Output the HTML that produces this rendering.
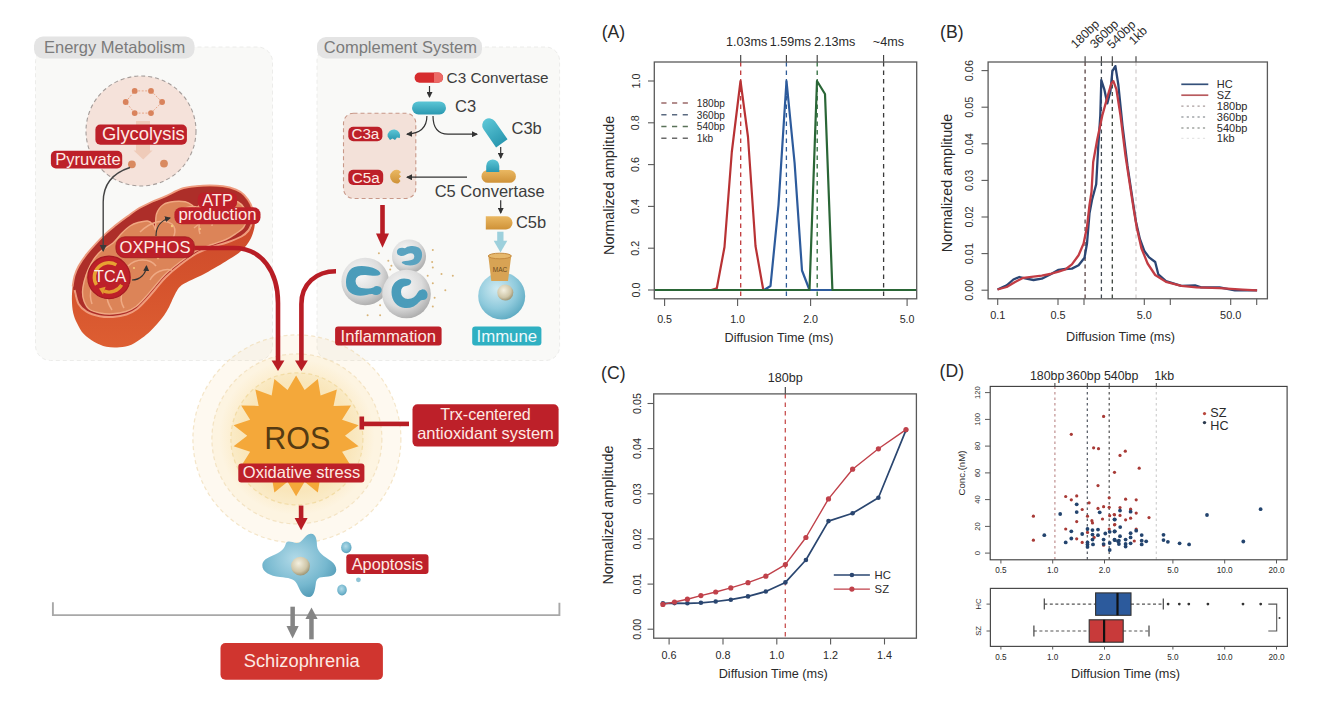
<!DOCTYPE html>
<html><head><meta charset="utf-8"><title>Figure</title>
<style>
html,body{margin:0;padding:0;background:#fff;}
svg{display:block;}
text{font-family:'Liberation Sans', Arial, sans-serif;}
</style></head>
<body>
<svg width="1318" height="718" viewBox="0 0 1318 718">
<defs>
<radialGradient id="gNeut" cx="40%" cy="35%" r="70%">
  <stop offset="0" stop-color="#f8f8f8"/><stop offset="0.6" stop-color="#dcdcdc"/><stop offset="1" stop-color="#a8a8a8"/>
</radialGradient>
<radialGradient id="gCell" cx="40%" cy="35%" r="70%">
  <stop offset="0" stop-color="#cfeaf2"/><stop offset="0.6" stop-color="#8fcadc"/><stop offset="1" stop-color="#5aa8c0"/>
</radialGradient>
<radialGradient id="gNuc" cx="40%" cy="35%" r="65%">
  <stop offset="0" stop-color="#f4f0e0"/><stop offset="0.7" stop-color="#cfc6a8"/><stop offset="1" stop-color="#a09878"/>
</radialGradient>
<linearGradient id="gTeal" x1="0" y1="0" x2="0" y2="1">
  <stop offset="0" stop-color="#5cc6d6"/><stop offset="1" stop-color="#2a98b0"/>
</linearGradient>
<linearGradient id="gGold" x1="0" y1="0" x2="0" y2="1">
  <stop offset="0" stop-color="#eab862"/><stop offset="1" stop-color="#cf9238"/>
</linearGradient>
<linearGradient id="gMitoOuter" x1="0" y1="0" x2="0" y2="1">
  <stop offset="0" stop-color="#c8442a"/><stop offset="0.6" stop-color="#d5532d"/><stop offset="1" stop-color="#dd5e32"/>
</linearGradient>
<radialGradient id="gHalo" cx="50%" cy="50%" r="50%">
  <stop offset="0.7" stop-color="#f8d890" stop-opacity="0.35"/><stop offset="1" stop-color="#f8d890" stop-opacity="0"/>
</radialGradient>
<radialGradient id="gApo" cx="45%" cy="40%" r="65%">
  <stop offset="0" stop-color="#b2dae8"/><stop offset="0.65" stop-color="#76b8cf"/><stop offset="1" stop-color="#4f98b4"/>
</radialGradient>
<marker id="mBlk2" markerWidth="8" markerHeight="8" refX="6" refY="3.5" orient="auto" markerUnits="userSpaceOnUse"><path d="M0,0 L7,3.5 L0,7 Z" fill="#3a3a3a"/></marker>
<marker id="mBlk" markerWidth="6" markerHeight="6" refX="5" refY="3" orient="auto" markerUnits="userSpaceOnUse"><path d="M0,0 L6,3 L0,6 Z" fill="#333"/></marker>
</defs>
<rect width="1318" height="718" fill="#fff"/>

<!-- panels -->
<rect x="35.5" y="47" width="237" height="313.5" rx="15" fill="#f9f9f7" stroke="#ececea" stroke-width="1" stroke-dasharray="4,3"/>
<rect x="317" y="47" width="242.6" height="313.5" rx="14" fill="#f9f9f7" stroke="#ececea" stroke-width="1" stroke-dasharray="4,3"/>
<rect x="34" y="36.5" width="160.5" height="22" rx="9" fill="#e4e4e4"/>
<text x="44" y="53" font-size="16.5" fill="#7b7b7b">Energy Metabolism</text>
<rect x="317" y="37" width="165" height="21.5" rx="9" fill="#e4e4e4"/>
<text x="323.8" y="53.2" font-size="16.5" fill="#7b7b7b">Complement System</text>

<!-- glycolysis -->
<circle cx="141" cy="131" r="55" fill="#f5e2da" stroke="#a59d9a" stroke-width="1.1" stroke-dasharray="4,3"/>
<g stroke="#e7a88a" stroke-width="1" stroke-dasharray="2,1.5">
<line x1="134.7" y1="90.9" x2="151" y2="90.9"/><line x1="151" y1="90.9" x2="162.1" y2="102"/><line x1="162.1" y1="102" x2="151" y2="113.1"/>
<line x1="151" y1="113.1" x2="134.7" y2="113.1"/><line x1="134.7" y1="113.1" x2="125.7" y2="102"/><line x1="125.7" y1="102" x2="134.7" y2="90.9"/>
</g>
<g fill="#d9835c"><circle cx="134.7" cy="90.9" r="2.9"/><circle cx="151" cy="90.9" r="2.9"/><circle cx="125.7" cy="102" r="2.9"/><circle cx="162.1" cy="102" r="2.9"/><circle cx="134.7" cy="113.1" r="2.9"/><circle cx="151" cy="113.1" r="2.9"/></g>
<path d="M136,121 H150 V150.6 H152.6 L143.2,159.6 L133.6,150.6 H136 Z" fill="#efcbb9"/>
<rect x="95.4" y="124.6" width="91.5" height="20.2" rx="5" fill="#bd2029"/>
<text x="102" y="140.2" font-size="18.4" fill="#fdeae4">Glycolysis</text>
<rect x="50.9" y="150.8" width="71.3" height="17.6" rx="5" fill="#bd2029"/>
<text x="55.2" y="165" font-size="16.6" fill="#fdeae4">Pyruvate</text>
<circle cx="131.9" cy="164.3" r="3.9" fill="#d98a60"/><circle cx="164" cy="163.6" r="3.9" fill="#d98a60"/>

<!-- mitochondrion -->
<path d="M78.5,266.3 C80.5,262.7 83.6,258.1 86.5,254.4 C89.4,250.7 92.4,247.3 95.7,243.8 C99.0,240.3 103.0,236.3 106.3,233.2 C109.6,230.1 112.3,228.0 115.6,225.3 C118.9,222.7 122.2,220.2 126.2,217.3 C130.2,214.4 135.0,210.7 139.4,208.1 C143.8,205.5 148.2,203.5 152.6,201.5 C157.0,199.5 160.7,198.4 165.8,196.2 C170.9,194.0 177.0,190.0 183.2,188.2 C189.4,186.4 196.5,185.9 203.1,185.6 C209.7,185.3 217.4,185.5 222.9,186.2 C228.4,186.9 232.6,188.2 236.1,189.6 C239.6,191.0 241.7,192.4 244.1,194.8 C246.5,197.2 249.0,200.8 250.7,204.1 C252.3,207.4 253.3,211.2 254.0,214.7 C254.7,218.2 255.0,221.8 254.7,225.3 C254.4,228.8 253.3,232.5 252.0,235.8 C250.7,239.1 248.9,242.2 246.7,245.1 C244.5,248.0 241.9,250.6 238.8,253.0 C235.7,255.4 231.7,257.5 228.2,259.7 C224.7,261.9 221.5,264.0 217.6,266.3 C213.7,268.6 209.3,271.2 205.0,273.5 C200.7,275.8 195.9,277.9 192.0,279.8 C188.1,281.7 184.3,283.2 181.8,285.1 C179.3,287.0 178.2,288.8 176.8,290.9 C175.4,293.0 174.7,295.0 173.4,297.6 C172.1,300.2 170.8,303.8 169.2,306.8 C167.6,309.8 165.9,312.7 164.0,315.5 C162.1,318.3 159.8,320.8 157.5,323.5 C155.2,326.2 152.6,329.1 150.0,331.5 C147.4,333.9 145.1,335.9 142.0,338.1 C138.9,340.3 135.2,343.2 131.4,344.7 C127.7,346.2 123.7,347.0 119.5,347.3 C115.3,347.6 110.5,347.6 106.3,346.7 C102.1,345.8 98.2,344.1 94.4,342.0 C90.7,339.9 86.7,337.2 83.8,334.1 C80.9,331.0 79.0,327.0 77.2,323.5 C75.4,320.0 74.1,316.9 73.2,312.9 C72.3,308.9 72.0,304.1 71.9,299.7 C71.8,295.3 72.2,290.4 72.6,286.5 C73.0,282.6 73.5,279.4 74.5,276.0 C75.5,272.6 76.5,269.9 78.5,266.3 Z" fill="url(#gMitoOuter)"/>
<path d="M73.5,290.0 C72.9,285.4 73.8,280.1 74.8,276.0 C75.8,271.9 77.4,269.2 79.5,265.5 C81.6,261.8 84.6,257.5 87.5,253.8 C90.4,250.1 93.4,246.7 96.7,243.2 C100.0,239.7 104.0,235.8 107.3,232.8 C110.6,229.8 113.3,227.6 116.6,225.0 C119.9,222.4 123.3,220.0 127.2,217.2 C131.1,214.4 135.9,210.9 140.2,208.3 C144.5,205.8 148.8,203.8 153.2,201.9 C157.6,200.0 161.4,198.9 166.5,196.8 C171.6,194.7 177.5,190.9 183.6,189.2 C189.7,187.5 196.7,187.1 203.2,186.8 C209.7,186.5 217.3,186.7 222.7,187.4 C228.1,188.1 232.2,189.4 235.6,190.8 C239.0,192.2 241.0,193.6 243.3,196.0 C245.6,198.4 247.9,201.9 249.5,205.0 C251.1,208.1 252.0,211.5 252.6,214.7 C253.2,217.9 253.5,221.4 253.0,224.0 C252.5,226.6 251.4,228.4 249.5,230.5 C247.6,232.6 245.2,234.5 241.4,236.5 C237.6,238.5 231.8,240.8 226.9,242.5 C222.0,244.2 217.1,245.2 212.0,247.0 C206.9,248.8 201.9,250.5 196.6,253.5 C191.3,256.5 185.1,261.1 180.0,265.0 C174.9,268.9 170.0,273.1 166.0,277.0 C162.0,280.9 159.2,284.8 156.0,288.5 C152.8,292.2 150.2,295.6 147.0,299.0 C143.8,302.4 140.4,306.4 137.0,309.0 C133.6,311.6 130.5,313.2 126.5,314.5 C122.5,315.8 117.4,316.6 112.9,316.9 C108.4,317.2 104.1,317.1 99.7,316.2 C95.3,315.3 90.0,313.7 86.5,311.6 C83.0,309.5 80.7,307.3 78.5,303.7 C76.3,300.1 74.1,294.6 73.5,290.0 Z" fill="#ad2e29"/>
<path d="M72.6,286.5 C72.9,284.8 73.5,279.4 74.5,276.0 C75.5,272.6 76.5,269.9 78.5,266.3 C80.5,262.7 83.6,258.1 86.5,254.4 C89.4,250.7 92.4,247.3 95.7,243.8 C99.0,240.3 103.0,236.3 106.3,233.2 C109.6,230.1 112.3,228.0 115.6,225.3 C118.9,222.7 122.2,220.2 126.2,217.3 C130.2,214.4 135.0,210.7 139.4,208.1 C143.8,205.5 148.2,203.5 152.6,201.5 C157.0,199.5 160.7,198.4 165.8,196.2 C170.9,194.0 177.0,190.0 183.2,188.2 C189.4,186.4 196.5,185.9 203.1,185.6 C209.7,185.3 217.4,185.5 222.9,186.2 C228.4,186.9 232.6,188.2 236.1,189.6 C239.6,191.0 241.7,192.4 244.1,194.8 C246.5,197.2 249.0,200.8 250.7,204.1 C252.3,207.4 253.4,212.9 254.0,214.7" fill="none" stroke="#ee9c80" stroke-width="1.8"/>
<path d="M84.0,282.0 C84.9,278.3 86.3,273.8 88.0,270.0 C89.7,266.2 91.8,262.2 94.0,259.0 C96.2,255.8 97.8,253.7 101.0,251.0 C104.2,248.3 109.5,246.0 113.0,243.0 C116.5,240.0 119.2,235.8 122.0,233.0 C124.8,230.2 127.3,227.8 130.0,226.0 C132.7,224.2 135.1,223.3 138.0,222.5 C140.9,221.7 145.0,220.6 147.6,221.0 C150.2,221.4 152.1,223.7 153.4,225.0 C154.7,226.3 155.0,230.8 155.5,229.0 C156.0,227.2 155.2,218.1 156.5,214.0 C157.8,209.9 160.5,206.6 163.5,204.5 C166.5,202.4 170.7,201.9 174.3,201.5 C177.9,201.1 182.2,201.2 185.2,201.8 C188.1,202.4 190.2,203.8 192.0,205.0 C193.8,206.2 194.5,209.2 196.0,209.0 C197.5,208.8 198.3,205.0 201.0,203.5 C203.7,202.0 207.8,200.7 212.0,200.0 C216.2,199.3 221.7,199.2 226.0,199.5 C230.3,199.8 234.8,200.4 238.0,202.0 C241.2,203.6 243.5,206.3 245.0,209.0 C246.5,211.7 247.2,214.9 247.0,218.0 C246.8,221.1 245.3,224.9 243.5,227.5 C241.7,230.1 238.9,231.5 236.0,233.5 C233.1,235.5 230.0,237.7 226.0,239.5 C222.0,241.3 217.0,242.6 212.0,244.5 C207.0,246.4 201.4,248.0 196.0,251.0 C190.6,254.0 184.7,258.6 179.5,262.5 C174.3,266.4 169.2,270.5 165.0,274.5 C160.8,278.5 157.8,282.8 154.5,286.5 C151.2,290.2 148.6,293.7 145.5,297.0 C142.4,300.3 139.2,304.1 136.0,306.5 C132.8,308.9 129.8,310.3 126.0,311.5 C122.2,312.7 117.3,313.6 113.0,313.8 C108.7,314.1 104.0,313.8 100.0,313.0 C96.0,312.2 91.7,311.0 89.0,309.0 C86.3,307.0 85.1,303.8 84.0,301.0 C82.9,298.2 82.5,295.2 82.5,292.0 C82.5,288.8 83.1,285.7 84.0,282.0 Z" fill="#dc8458" stroke="#f0a882" stroke-width="1.4"/>
<g fill="none" stroke="#efaa84" stroke-width="1.5">
<path d="M92,304 C88,292 92,282 100,276"/>
<path d="M112,310 C104,298 106,286 114,280"/>
<path d="M124,308 C118,298 122,288 130,284"/>
<path d="M140,232 C150,222 164,218 172,224 C178,230 174,240 166,246"/>
<path d="M176,214 C184,206 196,204 202,210 C206,216 200,224 194,228"/>
<path d="M200,234 C196,222 204,210 218,208 C232,206 240,214 238,224"/>
<path d="M212,226 C212,218 222,214 228,220"/>
<path d="M128,266 C136,258 150,258 156,266"/>
<path d="M150,280 C154,272 164,268 172,270"/>
</g>
<path d="M74.6,290.0 C75.2,292.3 76.5,300.1 78.5,303.7 C80.5,307.3 83.0,309.5 86.5,311.6 C90.0,313.7 95.3,315.3 99.7,316.2 C104.1,317.1 108.4,317.2 112.9,316.9 C117.4,316.6 122.5,315.8 126.5,314.5 C130.5,313.2 133.6,311.6 137.0,309.0 C140.4,306.4 143.8,302.4 147.0,299.0 C150.2,295.6 152.8,292.2 156.0,288.5 C159.2,284.8 162.0,280.9 166.0,277.0 C170.0,273.1 174.9,268.9 180.0,265.0 C185.1,261.1 191.3,256.5 196.6,253.5 C201.9,250.5 206.9,248.8 212.0,247.0 C217.1,245.2 222.0,244.2 226.9,242.5 C231.8,240.8 237.8,238.5 241.4,236.5 C245.0,234.5 246.8,232.6 248.5,230.5 C250.2,228.4 251.2,225.1 251.8,224.0" fill="none" stroke="#f09c7c" stroke-width="2"/>
<g fill="#f3c878"><circle cx="104" cy="292" r="1.2"/><circle cx="158" cy="258" r="1.2"/><circle cx="172" cy="226" r="1.2"/><circle cx="134" cy="268" r="1.1"/><circle cx="200" cy="229" r="1.1"/></g>
<!-- pyruvate -> TCA line -->
<path d="M130,167.5 C116,172 103.2,182 103.2,202 V251" fill="none" stroke="#444" stroke-width="1.4" marker-end="url(#mBlk2)"/>
<!-- TCA -->
<circle cx="109" cy="277.4" r="21.2" fill="#bd2029" stroke="#a51b22" stroke-width="1.2"/>
<path d="M116.3,264.9 A14.5,14.5 0 0 0 96.4,284.8" fill="none" stroke="#e8a232" stroke-width="3.4"/>
<path d="M121.6,284.8 A14.5,14.5 0 0 1 104,291.2" fill="none" stroke="#e39a30" stroke-width="3.4"/>
<path d="M99,288.6 L105.6,286.8 L103,294.6 Z" fill="#e39a30"/>
<text x="110.2" y="282.4" font-size="16.2" fill="#fbeee8" text-anchor="middle">TCA</text>
<!-- small arrows -->
<path d="M132,280 C140,280 146,274 146.5,266" fill="none" stroke="#333" stroke-width="1.2" marker-end="url(#mBlk)"/>
<path d="M156,236 C156,226 162,220 170,218" fill="none" stroke="#333" stroke-width="1.2" marker-end="url(#mBlk)"/>
<!-- OXPHOS / ATP labels -->
<rect x="115.9" y="236.8" width="78.5" height="20.9" rx="9" fill="#bd2029" stroke="#a01c20" stroke-width="0.8"/>
<text x="155.1" y="252.8" font-size="16.6" fill="#fdeae4" text-anchor="middle">OXPHOS</text>
<rect x="197.8" y="192.5" width="39.3" height="16" rx="6" fill="#bd2029"/>
<rect x="174.4" y="207.2" width="86.1" height="17.1" rx="7" fill="#bd2029"/>
<text x="217.5" y="206" font-size="16.4" fill="#fdeae4" text-anchor="middle">ATP</text>
<text x="217.5" y="220.3" font-size="16.7" fill="#fdeae4" text-anchor="middle">production</text>

<!-- halo -->
<circle cx="296.9" cy="438.9" r="104" fill="rgb(245,212,140)" fill-opacity="0.13" stroke="#efdcb4" stroke-opacity="0.7" stroke-width="1.2" stroke-dasharray="4,3"/>
<circle cx="296.9" cy="438.9" r="85" fill="rgb(245,212,140)" fill-opacity="0.15" stroke="#efdcb4" stroke-opacity="0.7" stroke-width="1.2" stroke-dasharray="4,3"/>
<circle cx="296.9" cy="437" r="78" fill="url(#gHalo)"/>
<circle cx="296.9" cy="438.9" r="66" fill="rgb(245,212,140)" fill-opacity="0.17" stroke="#f0d89c" stroke-opacity="0.8" stroke-width="1.2" stroke-dasharray="4,3"/>
<!-- red connectors to ROS -->
<path d="M194.4,248 H234 C262,248 278,272 278,303 V362" fill="none" stroke="#b81d25" stroke-width="4.6"/>
<path d="M271.6,360.5 H284.4 L278,371 Z" fill="#b81d25"/>
<path d="M336,271.2 C316,271.2 301.4,284 301.4,304 V362" fill="none" stroke="#b81d25" stroke-width="4.6"/>
<path d="M295,360.5 H307.8 L301.4,371 Z" fill="#b81d25"/>

<!-- complement -->
<rect x="343.5" y="113.2" width="72.3" height="85.3" rx="10" fill="#f3e1d9" stroke="#c89888" stroke-width="1.1" stroke-dasharray="4,3"/>
<rect x="414.6" y="72.6" width="28.5" height="10.1" rx="5" fill="#d62c2e"/>
<path d="M434,72.6 H438 A5,5 0 0 1 438,82.7 H434 Z" fill="#ec6a66"/>
<text x="446.6" y="82.8" font-size="15.3" fill="#3d3d3d">C3 Convertase</text>
<line x1="429.5" y1="86" x2="429.5" y2="97" stroke="#333" stroke-width="1.2" marker-end="url(#mBlk)"/>
<rect x="412" y="101.4" width="34" height="13.1" rx="6.5" fill="url(#gTeal)"/>
<text x="455" y="112.4" font-size="16.5" fill="#3d3d3d">C3</text>
<path d="M426.9,116 C426.9,128 420,133.5 407,134.2" fill="none" stroke="#333" stroke-width="1.2" marker-end="url(#mBlk)"/>
<path d="M433,116 C433,128 438,134 448,134.2 H477" fill="none" stroke="#333" stroke-width="1.2" marker-end="url(#mBlk)"/>
<g transform="rotate(-35 493.5 131.5)"><path d="M486.5,146 V124 A7,7 0 0 1 500.5,124 V146 Z" fill="url(#gTeal)"/></g>
<text x="511.5" y="134.2" font-size="16.5" fill="#3d3d3d">C3b</text>
<rect x="348.3" y="126.8" width="34.1" height="14.4" rx="5" fill="#bd2029"/>
<text x="365.4" y="139.1" font-size="15.2" fill="#fdeae4" text-anchor="middle">C3a</text>
<path d="M387.6,136.5 A6.3,6.3 0 1 1 399.8,138 L397,137.5 L395,140 L392.5,138.5 L390,140 Z" fill="url(#gTeal)"/>
<line x1="500.7" y1="147" x2="500.7" y2="158" stroke="#333" stroke-width="1.2" marker-end="url(#mBlk)"/>
<rect x="481.5" y="170" width="34.4" height="12.8" rx="6.4" fill="url(#gGold)"/>
<path d="M486.2,172 V166 A6.5,6.5 0 0 1 499.3,166 V172 Z" fill="url(#gTeal)"/>
<text x="434.7" y="196.7" font-size="16.5" fill="#3d3d3d">C5 Convertase</text>
<line x1="467" y1="177.2" x2="407" y2="177.2" stroke="#333" stroke-width="1.2" marker-end="url(#mBlk)"/>
<rect x="348.3" y="169.7" width="34.9" height="15.3" rx="5" fill="#bd2029"/>
<text x="365.7" y="182.6" font-size="15.2" fill="#fdeae4" text-anchor="middle">C5a</text>
<path d="M398.5,170 A6.8,6.8 0 1 0 398.5,183.2 L400.5,181 L398.8,178.5 L401,176.5 L399,174 L401,172 Z" fill="url(#gGold)"/>
<line x1="500.7" y1="200.2" x2="500.7" y2="213" stroke="#333" stroke-width="1.2" marker-end="url(#mBlk)"/>
<path d="M485.8,216.3 H506 A6.5,6.5 0 0 1 506,229.4 H485.8 Z" fill="url(#gGold)"/>
<text x="515.9" y="228.2" font-size="16.5" fill="#3d3d3d">C5b</text>
<!-- red arrow from C5a box -->
<rect x="380.2" y="205" width="4.6" height="30" fill="#b81d25"/>
<path d="M376,233.5 H389 L382.5,247.7 Z" fill="#b81d25"/>
<!-- light blue arrow -->
<rect x="497.2" y="231.7" width="6.3" height="10" fill="#9dd0dc"/>
<path d="M493.7,240.8 H507.3 L500.5,252.5 Z" fill="#9dd0dc"/>
<!-- neutrophils -->
<g fill="#d8b478"><circle cx="432.8" cy="250" r="1"/><circle cx="432.1" cy="262" r="1"/><circle cx="432.8" cy="267.6" r="1"/><circle cx="427.7" cy="275.7" r="1"/><circle cx="441.5" cy="273.9" r="1"/><circle cx="452.8" cy="275.7" r="1"/><circle cx="432.8" cy="283.3" r="1"/><circle cx="445.3" cy="290.2" r="1"/><circle cx="434.6" cy="297.7" r="1"/><circle cx="432.8" cy="306.4" r="1"/><circle cx="378.9" cy="253.2" r="1"/><circle cx="388.3" cy="260.7" r="1"/><circle cx="391.4" cy="265.7" r="1"/><circle cx="390.2" cy="269.5" r="1"/><circle cx="380.1" cy="305.2" r="1"/><circle cx="367.6" cy="315.2" r="1"/><circle cx="380.1" cy="315.2" r="1"/></g>
<circle cx="365.2" cy="281.5" r="23.8" fill="url(#gNeut)"/>
<path d="M379,273.5 C376,268.5 362,266 355,268.5 C348,271 346,281 348.5,288 C351,294 359,295 366,293.5 C369,293 371,292 373,292.5 C375,294 379,294 380,291 C381,288 377,286.5 374.5,288.5 C372,290 369,290 366,290 C359,290 354,287 354,281 C354,275.5 359,273 366,273.5 C372,274 377,275.5 379,273.5 Z" fill="#4b9cba" stroke="#4b9cba" stroke-width="3" stroke-linejoin="round"/>
<circle cx="409" cy="256.4" r="17" fill="url(#gNeut)"/>
<path d="M398,252 C398,249 402,248 405,249.5 C408,247 414,246 418,248.5 C422,251 422,258 418,262 C414,265.5 406,265 403,262.5 C406,262 411,262 414,260 C416,258 416,254 413,252.5 C410,251 407,253 405,254 C402,255.5 398,255 398,252 Z" fill="#5aa3c0" stroke="#5aa3c0" stroke-width="2.2" stroke-linejoin="round"/>
<circle cx="406.5" cy="294" r="24.3" fill="url(#gNeut)"/>
<path d="M404,280 C398,280 393,285 393,292 C393,300 398,306 405,306.5 C411,307 416,304 418,301 C419.5,299 421,298 423,298.5 C426,298.5 427,295 425.5,292.5 C424,290 420,290.5 419,293 C417.5,296.5 414,300 408,300.5 C403,300.5 399.5,297 399.5,292 C399.5,287.5 402,285 406,284.5 C410,284 411,281 408,280.5 Z" fill="#4b9cba" stroke="#4b9cba" stroke-width="3" stroke-linejoin="round"/>
<!-- immune cell -->
<circle cx="501.7" cy="296" r="23.5" fill="url(#gCell)"/>
<circle cx="505.3" cy="292.6" r="8" fill="url(#gNuc)"/>
<path d="M488.3,255.5 H511.3 L508,281 H491.3 Z" fill="#d8a354"/>
<ellipse cx="499.8" cy="256" rx="11.5" ry="2.8" fill="#e6b86c" stroke="#c48a40" stroke-width="1"/>
<text x="500" y="271.5" font-size="6.5" fill="#6b4a1e" text-anchor="middle">MAC</text>
<!-- labels -->
<rect x="335.1" y="326.6" width="106.5" height="18.8" rx="3" fill="#bd2029"/>
<text x="388.3" y="342" font-size="16.7" fill="#fdeae4" text-anchor="middle">Inflammation</text>
<rect x="472.2" y="326.6" width="69.2" height="18.8" rx="3" fill="#2fb0c2"/>
<text x="506.8" y="342" font-size="16.8" fill="#eef9fb" text-anchor="middle">Immune</text>

<!-- ROS -->
<polygon points="0.0,-61.0 8.2,-46.3 20.9,-57.3 23.5,-40.7 39.2,-46.7 36.0,-30.2 52.8,-30.5 44.2,-16.1 60.1,-10.6 47.0,0.0 60.1,10.6 44.2,16.1 52.8,30.5 36.0,30.2 39.2,46.7 23.5,40.7 20.9,57.3 8.2,46.3 0.0,61.0 -8.2,46.3 -20.9,57.3 -23.5,40.7 -39.2,46.7 -36.0,30.2 -52.8,30.5 -44.2,16.1 -60.1,10.6 -47.0,0.0 -60.1,-10.6 -44.2,-16.1 -52.8,-30.5 -36.0,-30.2 -39.2,-46.7 -23.5,-40.7 -20.9,-57.3 -8.2,-46.3" transform="translate(296.1 435.8) scale(1.04 0.99)" fill="#f4a83a"/>
<text x="297.4" y="449" font-size="30.5" fill="#553a12" text-anchor="middle">ROS</text>
<rect x="238.3" y="463.5" width="126.1" height="19.1" rx="3" fill="#bd2029"/>
<text x="301.5" y="478.4" font-size="16.5" fill="#fdeae4" text-anchor="middle">Oxidative stress</text>
<rect x="298.8" y="505.6" width="4.6" height="14" fill="#b81d25"/>
<path d="M294.6,518 H307.6 L301.1,530.3 Z" fill="#b81d25"/>
<!-- inhibition -->
<rect x="361" y="421.6" width="48" height="4.6" fill="#b81d25"/>
<rect x="359.5" y="416.5" width="4.6" height="13" fill="#b81d25"/>
<rect x="412.5" y="404.3" width="146.1" height="42.3" rx="5" fill="#bd2029"/>
<text x="485.5" y="419.8" font-size="16.1" fill="#fdeae4" text-anchor="middle">Trx-centered</text>
<text x="485.5" y="438.9" font-size="16.5" fill="#fdeae4" text-anchor="middle">antioxidant system</text>

<!-- apoptosis -->
<path d="M310.5,533.7 C316,533 317,540 317,546 C318,553 324,556 331,561 C338,566 338,574 331,576 C324,578 318,575 316,582 C315,590 314,597 309,597 C302,597 300,590 297,584 C294,578 288,578 280,577 C270,576 262,572 262.3,565 C262.5,559 270,557 278,553 C284,550 285,546 286,543 C288,540 292,542 296,543 C302,544 305,534 310.5,533.7 Z" fill="url(#gApo)"/>
<circle cx="300.5" cy="566.1" r="9.4" fill="url(#gNuc)"/>
<ellipse cx="346.3" cy="547.4" rx="5.2" ry="5.8" fill="url(#gApo)"/>
<ellipse cx="342" cy="589.9" rx="4.8" ry="5.5" fill="url(#gApo)"/>
<circle cx="358.4" cy="579.8" r="2.4" fill="#8fc4d6"/>
<rect x="346.3" y="554.2" width="82.2" height="19.9" rx="3" fill="#bd2029"/>
<text x="387.5" y="569.7" font-size="16.3" fill="#fdeae4" text-anchor="middle">Apoptosis</text>

<!-- bracket -->
<path d="M52.9,602.3 V615.1 H559.4 V602.8" fill="none" stroke="#a8a8a8" stroke-width="1.9"/>
<rect x="290.4" y="606.7" width="4.5" height="20" fill="#858585"/>
<path d="M286.5,626 H298.7 L292.6,638.6 Z" fill="#858585"/>
<rect x="309.2" y="618" width="4.5" height="21.3" fill="#858585"/>
<path d="M305.4,619 H317.6 L311.5,607.5 Z" fill="#858585"/>
<rect x="220.5" y="643.1" width="162.4" height="36.7" rx="5" fill="#d0352f"/>
<text x="301.7" y="667" font-size="18.3" fill="#fdeae4" text-anchor="middle">Schizophrenia</text>

<text x="613.4" y="37.8" font-size="17.6" text-anchor="middle" fill="#2a2a2a">(A)</text>
<line x1="740.7" y1="62.0" x2="740.7" y2="298.8" stroke="#c0393b" stroke-width="1.3" stroke-dasharray="4.5,4"/>
<line x1="740.7" y1="55.0" x2="740.7" y2="62.0" stroke="#3a3a3a" stroke-width="1.1"/>
<line x1="786.4" y1="62.0" x2="786.4" y2="298.8" stroke="#2f5c98" stroke-width="1.3" stroke-dasharray="4.5,4"/>
<line x1="786.4" y1="55.0" x2="786.4" y2="62.0" stroke="#3a3a3a" stroke-width="1.1"/>
<line x1="817.2" y1="62.0" x2="817.2" y2="298.8" stroke="#2c6b3a" stroke-width="1.3" stroke-dasharray="4.5,4"/>
<line x1="817.2" y1="55.0" x2="817.2" y2="62.0" stroke="#3a3a3a" stroke-width="1.1"/>
<line x1="883.6" y1="62.0" x2="883.6" y2="298.8" stroke="#3a3a3a" stroke-width="1.3" stroke-dasharray="4.5,4"/>
<line x1="883.6" y1="55.0" x2="883.6" y2="62.0" stroke="#3a3a3a" stroke-width="1.1"/>
<text x="726.0" y="46.2" font-size="12.6" text-anchor="start" fill="#2a2a2a">1.03ms</text>
<text x="769.7" y="46.2" font-size="12.6" text-anchor="start" fill="#2a2a2a">1.59ms</text>
<text x="814.0" y="46.2" font-size="12.6" text-anchor="start" fill="#2a2a2a">2.13ms</text>
<text x="872.8" y="46.2" font-size="12.6" text-anchor="start" fill="#2a2a2a">~4ms</text>
<polyline points="654.3,290.0 711.3,290.0 716.8,288.3 724.5,247.0 731.8,152.0 740.5,81.0 748.0,137.0 755.5,246.0 763.3,290.0 916.7,290.0" fill="none" stroke="#b83234" stroke-width="2.2" stroke-linejoin="round"/>
<polyline points="654.3,290.0 764.1,290.0 770.5,286.0 778.5,205.0 786.5,81.0 794.6,163.0 802.0,270.5 809.5,290.0 916.7,290.0" fill="none" stroke="#2d5b9c" stroke-width="2.2" stroke-linejoin="round"/>
<polyline points="654.3,290.0 809.5,290.0 817.0,81.0 825.0,94.0 832.4,290.0 916.7,290.0" fill="none" stroke="#2a6636" stroke-width="2.2" stroke-linejoin="round"/>
<rect x="654.3" y="62.0" width="262.4" height="236.8" fill="none" stroke="#5a5a5a" stroke-width="1.3"/>
<line x1="648.0" y1="290.0" x2="654.3" y2="290.0" stroke="#5a5a5a" stroke-width="1.1"/>
<text x="639.5" y="290.0" font-size="10.8" text-anchor="middle" fill="#2a2a2a" transform="rotate(-90 639.5 290.0)">0.0</text>
<line x1="648.0" y1="248.2" x2="654.3" y2="248.2" stroke="#5a5a5a" stroke-width="1.1"/>
<text x="639.5" y="248.2" font-size="10.8" text-anchor="middle" fill="#2a2a2a" transform="rotate(-90 639.5 248.2)">0.2</text>
<line x1="648.0" y1="206.4" x2="654.3" y2="206.4" stroke="#5a5a5a" stroke-width="1.1"/>
<text x="639.5" y="206.4" font-size="10.8" text-anchor="middle" fill="#2a2a2a" transform="rotate(-90 639.5 206.4)">0.4</text>
<line x1="648.0" y1="164.6" x2="654.3" y2="164.6" stroke="#5a5a5a" stroke-width="1.1"/>
<text x="639.5" y="164.6" font-size="10.8" text-anchor="middle" fill="#2a2a2a" transform="rotate(-90 639.5 164.6)">0.6</text>
<line x1="648.0" y1="122.8" x2="654.3" y2="122.8" stroke="#5a5a5a" stroke-width="1.1"/>
<text x="639.5" y="122.8" font-size="10.8" text-anchor="middle" fill="#2a2a2a" transform="rotate(-90 639.5 122.8)">0.8</text>
<line x1="648.0" y1="81.0" x2="654.3" y2="81.0" stroke="#5a5a5a" stroke-width="1.1"/>
<text x="639.5" y="81.0" font-size="10.8" text-anchor="middle" fill="#2a2a2a" transform="rotate(-90 639.5 81.0)">1.0</text>
<line x1="664.6" y1="298.8" x2="664.6" y2="306.0" stroke="#5a5a5a" stroke-width="1.1"/>
<text x="664.6" y="322.6" font-size="10.7" text-anchor="middle" fill="#2a2a2a">0.5</text>
<line x1="737.6" y1="298.8" x2="737.6" y2="306.0" stroke="#5a5a5a" stroke-width="1.1"/>
<text x="737.6" y="322.6" font-size="10.7" text-anchor="middle" fill="#2a2a2a">1.0</text>
<line x1="810.6" y1="298.8" x2="810.6" y2="306.0" stroke="#5a5a5a" stroke-width="1.1"/>
<text x="810.6" y="322.6" font-size="10.7" text-anchor="middle" fill="#2a2a2a">2.0</text>
<line x1="907.1" y1="298.8" x2="907.1" y2="306.0" stroke="#5a5a5a" stroke-width="1.1"/>
<text x="907.1" y="322.6" font-size="10.7" text-anchor="middle" fill="#2a2a2a">5.0</text>
<text x="779.0" y="342.0" font-size="12.7" text-anchor="middle" fill="#2a2a2a">Diffusion Time (ms)</text>
<text x="613.6" y="185.4" font-size="14.4" text-anchor="middle" fill="#2a2a2a" transform="rotate(-90 613.6 185.4)">Normalized amplitude</text>
<line x1="661.3" y1="102.9" x2="688.0" y2="102.9" stroke="#9a6a6a" stroke-width="1.5" stroke-dasharray="5.2,5.5"/>
<text x="696.8" y="106.7" font-size="10.1" text-anchor="start" fill="#2a2a2a">180bp</text>
<line x1="661.3" y1="114.8" x2="688.0" y2="114.8" stroke="#5a6a80" stroke-width="1.5" stroke-dasharray="5.2,5.5"/>
<text x="696.8" y="118.6" font-size="10.1" text-anchor="start" fill="#2a2a2a">360bp</text>
<line x1="661.3" y1="126.5" x2="688.0" y2="126.5" stroke="#5a7258" stroke-width="1.5" stroke-dasharray="5.2,5.5"/>
<text x="696.8" y="130.3" font-size="10.1" text-anchor="start" fill="#2a2a2a">540bp</text>
<line x1="661.3" y1="138.3" x2="688.0" y2="138.3" stroke="#6a6a6a" stroke-width="1.5" stroke-dasharray="5.2,5.5"/>
<text x="696.8" y="142.1" font-size="10.1" text-anchor="start" fill="#2a2a2a">1kb</text>
<text x="951.8" y="37.9" font-size="17.6" text-anchor="middle" fill="#2a2a2a">(B)</text>
<line x1="1085.1" y1="62.0" x2="1085.1" y2="298.8" stroke="#5a4444" stroke-width="1.3" stroke-dasharray="4,3.5"/>
<line x1="1085.1" y1="56.2" x2="1085.1" y2="62.0" stroke="#3a3a3a" stroke-width="1.1"/>
<line x1="1101.4" y1="62.0" x2="1101.4" y2="298.8" stroke="#404850" stroke-width="1.3" stroke-dasharray="4,3.5"/>
<line x1="1101.4" y1="56.2" x2="1101.4" y2="62.0" stroke="#3a3a3a" stroke-width="1.1"/>
<line x1="1112.3" y1="62.0" x2="1112.3" y2="298.8" stroke="#3c443c" stroke-width="1.3" stroke-dasharray="4,3.5"/>
<line x1="1112.3" y1="56.2" x2="1112.3" y2="62.0" stroke="#3a3a3a" stroke-width="1.1"/>
<line x1="1136.0" y1="62.0" x2="1136.0" y2="298.8" stroke="#d4d0d0" stroke-width="1.3" stroke-dasharray="4,3.5"/>
<line x1="1136.0" y1="56.2" x2="1136.0" y2="62.0" stroke="#3a3a3a" stroke-width="1.1"/>
<text x="1075.8" y="49.0" font-size="12.3" text-anchor="start" fill="#2a2a2a" transform="rotate(-45 1075.8 49.0)">180bp</text>
<text x="1095.0" y="49.0" font-size="12.3" text-anchor="start" fill="#2a2a2a" transform="rotate(-45 1095.0 49.0)">360bp</text>
<text x="1112.1" y="49.5" font-size="12.3" text-anchor="start" fill="#2a2a2a" transform="rotate(-45 1112.1 49.5)">540bp</text>
<text x="1133.8" y="45.5" font-size="12.3" text-anchor="start" fill="#2a2a2a" transform="rotate(-45 1133.8 45.5)">1kb</text>
<polyline points="997.5,289.5 1006.7,285.3 1013.4,279.5 1019.3,277.0 1025.1,278.3 1033.5,280.0 1041.8,278.7 1050.2,274.5 1058.6,269.8 1065.3,269.0 1071.9,268.6 1078.6,265.3 1084.5,257.8 1087.0,243.5 1089.5,213.4 1092.0,200.0 1096.2,184.2 1098.3,145.8 1100.3,115.5 1101.3,80.2 1104.3,89.3 1107.3,103.4 1110.4,91.3 1112.4,71.1 1115.4,66.1 1118.4,85.3 1122.5,125.6 1127.5,166.0 1132.6,199.9 1136.0,222.0 1139.9,239.0 1144.5,251.3 1149.1,257.4 1155.2,262.0 1158.3,274.3 1166.0,281.2 1181.3,285.8 1195.0,285.3 1201.2,287.3 1219.6,287.3 1227.2,288.8 1234.9,290.4 1257.1,290.4" fill="none" stroke="#2b4674" stroke-width="2.3" stroke-linejoin="round"/>
<polyline points="997.5,289.5 1006.7,287.0 1015.1,282.0 1023.4,277.8 1033.5,276.7 1041.8,275.7 1050.2,274.0 1058.6,271.6 1065.3,269.5 1071.9,264.4 1078.6,255.3 1083.6,243.5 1087.0,226.8 1089.5,205.0 1091.5,192.0 1093.2,162.0 1097.2,139.8 1102.3,115.5 1107.3,97.4 1111.4,83.3 1113.4,81.2 1116.4,89.3 1120.5,115.5 1125.5,155.9 1130.7,190.0 1133.8,209.9 1136.9,228.3 1141.4,248.2 1147.6,263.5 1155.2,275.0 1166.0,281.9 1181.3,285.8 1196.6,287.3 1219.6,288.1 1242.6,289.6 1257.1,290.4" fill="none" stroke="#c23c44" stroke-width="2.3" stroke-linejoin="round"/>
<rect x="988.1" y="62.0" width="279.3" height="236.8" fill="none" stroke="#5a5a5a" stroke-width="1.3"/>
<line x1="981.5" y1="290.2" x2="988.1" y2="290.2" stroke="#5a5a5a" stroke-width="1.1"/>
<text x="972.8" y="290.2" font-size="10.9" text-anchor="middle" fill="#2a2a2a" transform="rotate(-90 972.8 290.2)">0.00</text>
<line x1="981.5" y1="253.6" x2="988.1" y2="253.6" stroke="#5a5a5a" stroke-width="1.1"/>
<text x="972.8" y="253.6" font-size="10.9" text-anchor="middle" fill="#2a2a2a" transform="rotate(-90 972.8 253.6)">0.01</text>
<line x1="981.5" y1="217.0" x2="988.1" y2="217.0" stroke="#5a5a5a" stroke-width="1.1"/>
<text x="972.8" y="217.0" font-size="10.9" text-anchor="middle" fill="#2a2a2a" transform="rotate(-90 972.8 217.0)">0.02</text>
<line x1="981.5" y1="180.4" x2="988.1" y2="180.4" stroke="#5a5a5a" stroke-width="1.1"/>
<text x="972.8" y="180.4" font-size="10.9" text-anchor="middle" fill="#2a2a2a" transform="rotate(-90 972.8 180.4)">0.03</text>
<line x1="981.5" y1="143.8" x2="988.1" y2="143.8" stroke="#5a5a5a" stroke-width="1.1"/>
<text x="972.8" y="143.8" font-size="10.9" text-anchor="middle" fill="#2a2a2a" transform="rotate(-90 972.8 143.8)">0.04</text>
<line x1="981.5" y1="107.2" x2="988.1" y2="107.2" stroke="#5a5a5a" stroke-width="1.1"/>
<text x="972.8" y="107.2" font-size="10.9" text-anchor="middle" fill="#2a2a2a" transform="rotate(-90 972.8 107.2)">0.05</text>
<line x1="981.5" y1="70.6" x2="988.1" y2="70.6" stroke="#5a5a5a" stroke-width="1.1"/>
<text x="972.8" y="70.6" font-size="10.9" text-anchor="middle" fill="#2a2a2a" transform="rotate(-90 972.8 70.6)">0.06</text>
<line x1="997.7" y1="298.8" x2="997.7" y2="305.0" stroke="#5a5a5a" stroke-width="1.1"/>
<line x1="1058.0" y1="298.8" x2="1058.0" y2="305.0" stroke="#5a5a5a" stroke-width="1.1"/>
<line x1="1084.0" y1="298.8" x2="1084.0" y2="305.0" stroke="#5a5a5a" stroke-width="1.1"/>
<line x1="1144.3" y1="298.8" x2="1144.3" y2="305.0" stroke="#5a5a5a" stroke-width="1.1"/>
<line x1="1170.3" y1="298.8" x2="1170.3" y2="305.0" stroke="#5a5a5a" stroke-width="1.1"/>
<line x1="1230.7" y1="298.8" x2="1230.7" y2="305.0" stroke="#5a5a5a" stroke-width="1.1"/>
<line x1="1256.7" y1="298.8" x2="1256.7" y2="305.0" stroke="#5a5a5a" stroke-width="1.1"/>
<text x="997.7" y="318.6" font-size="10.9" text-anchor="middle" fill="#2a2a2a">0.1</text>
<text x="1058.0" y="318.6" font-size="10.9" text-anchor="middle" fill="#2a2a2a">0.5</text>
<text x="1144.3" y="318.6" font-size="10.9" text-anchor="middle" fill="#2a2a2a">5.0</text>
<text x="1230.7" y="318.6" font-size="10.9" text-anchor="middle" fill="#2a2a2a">50.0</text>
<text x="1120.5" y="341.0" font-size="12.7" text-anchor="middle" fill="#2a2a2a">Diffusion Time (ms)</text>
<text x="951.9" y="183.0" font-size="14.3" text-anchor="middle" fill="#2a2a2a" transform="rotate(-90 951.9 183.0)">Normalized amplitude</text>
<line x1="1181.3" y1="84.3" x2="1208.3" y2="84.3" stroke="#34507a" stroke-width="1.7"/>
<text x="1216.8" y="88.2" font-size="11" text-anchor="start" fill="#2a2a2a">HC</text>
<line x1="1181.3" y1="95.2" x2="1208.3" y2="95.2" stroke="#b85a5e" stroke-width="1.7"/>
<text x="1216.8" y="99.1" font-size="11" text-anchor="start" fill="#2a2a2a">SZ</text>
<line x1="1181.3" y1="106.1" x2="1206.0" y2="106.1" stroke="#a89c9c" stroke-width="1.4" stroke-dasharray="2.2,3.2"/>
<text x="1216.8" y="110.0" font-size="11" text-anchor="start" fill="#2a2a2a">180bp</text>
<line x1="1181.3" y1="117.0" x2="1206.0" y2="117.0" stroke="#a0a4a8" stroke-width="1.4" stroke-dasharray="2.2,3.2"/>
<text x="1216.8" y="120.9" font-size="11" text-anchor="start" fill="#2a2a2a">360bp</text>
<line x1="1181.3" y1="128.0" x2="1206.0" y2="128.0" stroke="#a0a4a0" stroke-width="1.4" stroke-dasharray="2.2,3.2"/>
<text x="1216.8" y="131.9" font-size="11" text-anchor="start" fill="#2a2a2a">540bp</text>
<line x1="1181.3" y1="138.4" x2="1206.0" y2="138.4" stroke="#e4e4e4" stroke-width="1.4" stroke-dasharray="2.2,3.2"/>
<text x="1216.8" y="142.3" font-size="11" text-anchor="start" fill="#2a2a2a">1kb</text>
<text x="613.3" y="378.7" font-size="17.6" text-anchor="middle" fill="#2a2a2a">(C)</text>
<line x1="785.3" y1="393.9" x2="785.3" y2="638.2" stroke="#c85050" stroke-width="1.3" stroke-dasharray="4.5,4"/>
<line x1="785.3" y1="387.0" x2="785.3" y2="393.9" stroke="#3a3a3a" stroke-width="1.1"/>
<text x="785.3" y="381.8" font-size="12.6" text-anchor="middle" fill="#2a2a2a">180bp</text>
<polyline points="662.9,603.3 674.5,603.1 687.4,603.3 700.9,602.8 715.7,601.5 730.8,599.7 748.0,596.4 765.8,591.5 785.4,582.4 805.9,560.0 828.5,521.1 852.6,513.3 878.4,497.8 906.0,430.1" fill="none" stroke="#2a4670" stroke-width="1.7" stroke-linejoin="round"/>
<polyline points="662.9,604.4 674.5,602.0 687.4,599.2 700.9,595.6 715.7,592.0 730.8,587.9 748.0,582.7 765.8,576.2 785.4,564.6 805.9,537.5 828.5,498.9 852.6,469.2 878.4,448.8 906.0,429.6" fill="none" stroke="#c0414a" stroke-width="1.4" stroke-linejoin="round"/>
<circle cx="662.9" cy="603.3" r="2.3" fill="#2a4670"/>
<circle cx="674.5" cy="603.1" r="2.3" fill="#2a4670"/>
<circle cx="687.4" cy="603.3" r="2.3" fill="#2a4670"/>
<circle cx="700.9" cy="602.8" r="2.3" fill="#2a4670"/>
<circle cx="715.7" cy="601.5" r="2.3" fill="#2a4670"/>
<circle cx="730.8" cy="599.7" r="2.3" fill="#2a4670"/>
<circle cx="748.0" cy="596.4" r="2.3" fill="#2a4670"/>
<circle cx="765.8" cy="591.5" r="2.3" fill="#2a4670"/>
<circle cx="785.4" cy="582.4" r="2.3" fill="#2a4670"/>
<circle cx="805.9" cy="560.0" r="2.3" fill="#2a4670"/>
<circle cx="828.5" cy="521.1" r="2.3" fill="#2a4670"/>
<circle cx="852.6" cy="513.3" r="2.3" fill="#2a4670"/>
<circle cx="878.4" cy="497.8" r="2.3" fill="#2a4670"/>
<circle cx="906.0" cy="430.1" r="2.3" fill="#2a4670"/>
<circle cx="662.9" cy="604.4" r="2.6" fill="#c0414a"/>
<circle cx="674.5" cy="602.0" r="2.6" fill="#c0414a"/>
<circle cx="687.4" cy="599.2" r="2.6" fill="#c0414a"/>
<circle cx="700.9" cy="595.6" r="2.6" fill="#c0414a"/>
<circle cx="715.7" cy="592.0" r="2.6" fill="#c0414a"/>
<circle cx="730.8" cy="587.9" r="2.6" fill="#c0414a"/>
<circle cx="748.0" cy="582.7" r="2.6" fill="#c0414a"/>
<circle cx="765.8" cy="576.2" r="2.6" fill="#c0414a"/>
<circle cx="785.4" cy="564.6" r="2.6" fill="#c0414a"/>
<circle cx="805.9" cy="537.5" r="2.6" fill="#c0414a"/>
<circle cx="828.5" cy="498.9" r="2.6" fill="#c0414a"/>
<circle cx="852.6" cy="469.2" r="2.6" fill="#c0414a"/>
<circle cx="878.4" cy="448.8" r="2.6" fill="#c0414a"/>
<circle cx="906.0" cy="429.6" r="2.6" fill="#c0414a"/>
<rect x="653.7" y="393.9" width="262.7" height="244.3" fill="none" stroke="#5a5a5a" stroke-width="1.3"/>
<line x1="647.5" y1="629.2" x2="653.7" y2="629.2" stroke="#5a5a5a" stroke-width="1.1"/>
<text x="640.8" y="629.2" font-size="10.8" text-anchor="middle" fill="#2a2a2a" transform="rotate(-90 640.8 629.2)">0.00</text>
<line x1="647.5" y1="584.1" x2="653.7" y2="584.1" stroke="#5a5a5a" stroke-width="1.1"/>
<text x="640.8" y="584.1" font-size="10.8" text-anchor="middle" fill="#2a2a2a" transform="rotate(-90 640.8 584.1)">0.01</text>
<line x1="647.5" y1="538.9" x2="653.7" y2="538.9" stroke="#5a5a5a" stroke-width="1.1"/>
<text x="640.8" y="538.9" font-size="10.8" text-anchor="middle" fill="#2a2a2a" transform="rotate(-90 640.8 538.9)">0.02</text>
<line x1="647.5" y1="493.8" x2="653.7" y2="493.8" stroke="#5a5a5a" stroke-width="1.1"/>
<text x="640.8" y="493.8" font-size="10.8" text-anchor="middle" fill="#2a2a2a" transform="rotate(-90 640.8 493.8)">0.03</text>
<line x1="647.5" y1="448.6" x2="653.7" y2="448.6" stroke="#5a5a5a" stroke-width="1.1"/>
<text x="640.8" y="448.6" font-size="10.8" text-anchor="middle" fill="#2a2a2a" transform="rotate(-90 640.8 448.6)">0.04</text>
<line x1="647.5" y1="403.5" x2="653.7" y2="403.5" stroke="#5a5a5a" stroke-width="1.1"/>
<text x="640.8" y="403.5" font-size="10.8" text-anchor="middle" fill="#2a2a2a" transform="rotate(-90 640.8 403.5)">0.05</text>
<line x1="669.1" y1="638.2" x2="669.1" y2="644.5" stroke="#5a5a5a" stroke-width="1.1"/>
<text x="669.1" y="658.8" font-size="10.8" text-anchor="middle" fill="#2a2a2a">0.6</text>
<line x1="723.0" y1="638.2" x2="723.0" y2="644.5" stroke="#5a5a5a" stroke-width="1.1"/>
<text x="723.0" y="658.8" font-size="10.8" text-anchor="middle" fill="#2a2a2a">0.8</text>
<line x1="776.8" y1="638.2" x2="776.8" y2="644.5" stroke="#5a5a5a" stroke-width="1.1"/>
<text x="776.8" y="658.8" font-size="10.8" text-anchor="middle" fill="#2a2a2a">1.0</text>
<line x1="830.6" y1="638.2" x2="830.6" y2="644.5" stroke="#5a5a5a" stroke-width="1.1"/>
<text x="830.6" y="658.8" font-size="10.8" text-anchor="middle" fill="#2a2a2a">1.2</text>
<line x1="884.5" y1="638.2" x2="884.5" y2="644.5" stroke="#5a5a5a" stroke-width="1.1"/>
<text x="884.5" y="658.8" font-size="10.8" text-anchor="middle" fill="#2a2a2a">1.4</text>
<text x="773.2" y="677.5" font-size="12.7" text-anchor="middle" fill="#2a2a2a">Diffusion Time (ms)</text>
<text x="613.4" y="515.0" font-size="14.4" text-anchor="middle" fill="#2a2a2a" transform="rotate(-90 613.4 515.0)">Normalized amplitude</text>
<line x1="833.8" y1="575.0" x2="869.9" y2="575.0" stroke="#2a4670" stroke-width="1.7"/>
<circle cx="851.9" cy="575.0" r="2.3" fill="#2a4670"/>
<text x="874.6" y="579.1" font-size="11.3" text-anchor="start" fill="#2a2a2a">HC</text>
<line x1="833.8" y1="589.1" x2="869.9" y2="589.1" stroke="#c0414a" stroke-width="1.4"/>
<circle cx="851.9" cy="589.1" r="2.6" fill="#c0414a"/>
<text x="874.6" y="592.8" font-size="11.3" text-anchor="start" fill="#2a2a2a">SZ</text>
<text x="951.8" y="377.3" font-size="17.6" text-anchor="middle" fill="#2a2a2a">(D)</text>
<line x1="1054.9" y1="386.4" x2="1054.9" y2="559.8" stroke="#c09090" stroke-width="1.2" stroke-dasharray="2.6,2.9"/>
<line x1="1054.9" y1="383.0" x2="1054.9" y2="386.4" stroke="#3a3a3a" stroke-width="1.0"/>
<line x1="1087.3" y1="386.4" x2="1087.3" y2="559.8" stroke="#505660" stroke-width="1.2" stroke-dasharray="2.6,2.9"/>
<line x1="1087.3" y1="383.0" x2="1087.3" y2="386.4" stroke="#3a3a3a" stroke-width="1.0"/>
<line x1="1109.2" y1="386.4" x2="1109.2" y2="559.8" stroke="#505050" stroke-width="1.2" stroke-dasharray="2.6,2.9"/>
<line x1="1109.2" y1="383.0" x2="1109.2" y2="386.4" stroke="#3a3a3a" stroke-width="1.0"/>
<line x1="1156.3" y1="386.4" x2="1156.3" y2="559.8" stroke="#d0d0d0" stroke-width="1.2" stroke-dasharray="2.6,2.9"/>
<line x1="1156.3" y1="383.0" x2="1156.3" y2="386.4" stroke="#3a3a3a" stroke-width="1.0"/>
<text x="1029.9" y="380.0" font-size="12.4" text-anchor="start" fill="#2a2a2a">180bp</text>
<text x="1066.1" y="380.0" font-size="12.4" text-anchor="start" fill="#2a2a2a">360bp</text>
<text x="1103.9" y="380.0" font-size="12.4" text-anchor="start" fill="#2a2a2a">540bp</text>
<text x="1154.2" y="380.0" font-size="12.4" text-anchor="start" fill="#2a2a2a">1kb</text>
<circle cx="1033.4" cy="516.2" r="1.6" fill="#a83a36"/>
<circle cx="1033.4" cy="540.2" r="1.6" fill="#a83a36"/>
<circle cx="1065.7" cy="496.5" r="1.6" fill="#a83a36"/>
<circle cx="1071.3" cy="499.8" r="1.6" fill="#a83a36"/>
<circle cx="1076.7" cy="495.9" r="1.6" fill="#a83a36"/>
<circle cx="1082.2" cy="509.5" r="1.6" fill="#a83a36"/>
<circle cx="1076.7" cy="521.6" r="1.6" fill="#a83a36"/>
<circle cx="1065.7" cy="529.0" r="1.6" fill="#a83a36"/>
<circle cx="1076.7" cy="538.8" r="1.6" fill="#a83a36"/>
<circle cx="1082.2" cy="542.4" r="1.6" fill="#a83a36"/>
<circle cx="1098.0" cy="485.6" r="1.6" fill="#a83a36"/>
<circle cx="1089.1" cy="502.8" r="1.6" fill="#a83a36"/>
<circle cx="1087.5" cy="516.2" r="1.6" fill="#a83a36"/>
<circle cx="1091.9" cy="520.7" r="1.6" fill="#a83a36"/>
<circle cx="1092.5" cy="522.9" r="1.6" fill="#a83a36"/>
<circle cx="1098.0" cy="508.4" r="1.6" fill="#a83a36"/>
<circle cx="1103.6" cy="506.7" r="1.6" fill="#a83a36"/>
<circle cx="1109.2" cy="497.8" r="1.6" fill="#a83a36"/>
<circle cx="1109.2" cy="507.3" r="1.6" fill="#a83a36"/>
<circle cx="1102.5" cy="519.0" r="1.6" fill="#a83a36"/>
<circle cx="1109.7" cy="515.7" r="1.6" fill="#a83a36"/>
<circle cx="1114.2" cy="514.5" r="1.6" fill="#a83a36"/>
<circle cx="1114.8" cy="524.6" r="1.6" fill="#a83a36"/>
<circle cx="1087.5" cy="532.4" r="1.6" fill="#a83a36"/>
<circle cx="1094.1" cy="537.4" r="1.6" fill="#a83a36"/>
<circle cx="1109.2" cy="529.0" r="1.6" fill="#a83a36"/>
<circle cx="1103.6" cy="545.2" r="1.6" fill="#a83a36"/>
<circle cx="1125.6" cy="499.2" r="1.6" fill="#a83a36"/>
<circle cx="1136.2" cy="499.8" r="1.6" fill="#a83a36"/>
<circle cx="1120.0" cy="507.6" r="1.6" fill="#a83a36"/>
<circle cx="1130.6" cy="509.2" r="1.6" fill="#a83a36"/>
<circle cx="1136.2" cy="513.1" r="1.6" fill="#a83a36"/>
<circle cx="1114.5" cy="514.8" r="1.6" fill="#a83a36"/>
<circle cx="1120.0" cy="515.4" r="1.6" fill="#a83a36"/>
<circle cx="1125.6" cy="519.8" r="1.6" fill="#a83a36"/>
<circle cx="1130.6" cy="518.2" r="1.6" fill="#a83a36"/>
<circle cx="1149.0" cy="517.6" r="1.6" fill="#a83a36"/>
<circle cx="1114.5" cy="524.8" r="1.6" fill="#a83a36"/>
<circle cx="1136.2" cy="529.0" r="1.6" fill="#a83a36"/>
<circle cx="1134.3" cy="541.0" r="1.6" fill="#a83a36"/>
<circle cx="1103.6" cy="416.4" r="1.6" fill="#a83a36"/>
<circle cx="1071.3" cy="434.3" r="1.6" fill="#a83a36"/>
<circle cx="1093.6" cy="447.8" r="1.6" fill="#a83a36"/>
<circle cx="1098.5" cy="448.7" r="1.6" fill="#a83a36"/>
<circle cx="1120.0" cy="455.4" r="1.6" fill="#a83a36"/>
<circle cx="1125.3" cy="451.2" r="1.6" fill="#a83a36"/>
<circle cx="1139.2" cy="468.2" r="1.6" fill="#a83a36"/>
<circle cx="1114.5" cy="472.3" r="1.6" fill="#a83a36"/>
<circle cx="1044.3" cy="535.2" r="1.9" fill="#23446e"/>
<circle cx="1060.2" cy="514.0" r="1.9" fill="#23446e"/>
<circle cx="1076.7" cy="504.3" r="1.9" fill="#23446e"/>
<circle cx="1076.7" cy="512.1" r="1.9" fill="#23446e"/>
<circle cx="1071.3" cy="531.3" r="1.9" fill="#23446e"/>
<circle cx="1071.3" cy="538.5" r="1.9" fill="#23446e"/>
<circle cx="1065.7" cy="542.4" r="1.9" fill="#23446e"/>
<circle cx="1082.2" cy="534.0" r="1.9" fill="#23446e"/>
<circle cx="1099.7" cy="512.3" r="1.9" fill="#23446e"/>
<circle cx="1114.8" cy="519.6" r="1.9" fill="#23446e"/>
<circle cx="1087.5" cy="529.0" r="1.9" fill="#23446e"/>
<circle cx="1092.5" cy="530.1" r="1.9" fill="#23446e"/>
<circle cx="1092.5" cy="534.6" r="1.9" fill="#23446e"/>
<circle cx="1098.0" cy="529.6" r="1.9" fill="#23446e"/>
<circle cx="1098.0" cy="535.2" r="1.9" fill="#23446e"/>
<circle cx="1105.3" cy="533.5" r="1.9" fill="#23446e"/>
<circle cx="1109.7" cy="531.8" r="1.9" fill="#23446e"/>
<circle cx="1114.8" cy="531.3" r="1.9" fill="#23446e"/>
<circle cx="1092.5" cy="539.6" r="1.9" fill="#23446e"/>
<circle cx="1087.5" cy="542.4" r="1.9" fill="#23446e"/>
<circle cx="1087.5" cy="544.6" r="1.9" fill="#23446e"/>
<circle cx="1087.5" cy="546.9" r="1.9" fill="#23446e"/>
<circle cx="1093.0" cy="544.4" r="1.9" fill="#23446e"/>
<circle cx="1103.6" cy="539.6" r="1.9" fill="#23446e"/>
<circle cx="1103.6" cy="544.1" r="1.9" fill="#23446e"/>
<circle cx="1109.7" cy="543.0" r="1.9" fill="#23446e"/>
<circle cx="1109.7" cy="550.0" r="1.9" fill="#23446e"/>
<circle cx="1114.8" cy="540.2" r="1.9" fill="#23446e"/>
<circle cx="1118.1" cy="541.3" r="1.9" fill="#23446e"/>
<circle cx="1120.0" cy="510.6" r="1.9" fill="#23446e"/>
<circle cx="1130.6" cy="511.7" r="1.9" fill="#23446e"/>
<circle cx="1114.5" cy="519.3" r="1.9" fill="#23446e"/>
<circle cx="1120.2" cy="527.1" r="1.9" fill="#23446e"/>
<circle cx="1114.5" cy="531.5" r="1.9" fill="#23446e"/>
<circle cx="1136.2" cy="530.7" r="1.9" fill="#23446e"/>
<circle cx="1130.6" cy="533.2" r="1.9" fill="#23446e"/>
<circle cx="1130.6" cy="537.4" r="1.9" fill="#23446e"/>
<circle cx="1120.0" cy="536.2" r="1.9" fill="#23446e"/>
<circle cx="1141.7" cy="535.1" r="1.9" fill="#23446e"/>
<circle cx="1114.5" cy="539.6" r="1.9" fill="#23446e"/>
<circle cx="1118.9" cy="540.7" r="1.9" fill="#23446e"/>
<circle cx="1118.9" cy="544.0" r="1.9" fill="#23446e"/>
<circle cx="1125.6" cy="539.6" r="1.9" fill="#23446e"/>
<circle cx="1125.6" cy="544.0" r="1.9" fill="#23446e"/>
<circle cx="1125.6" cy="546.6" r="1.9" fill="#23446e"/>
<circle cx="1130.6" cy="543.3" r="1.9" fill="#23446e"/>
<circle cx="1141.7" cy="540.7" r="1.9" fill="#23446e"/>
<circle cx="1141.7" cy="544.4" r="1.9" fill="#23446e"/>
<circle cx="1146.2" cy="541.3" r="1.9" fill="#23446e"/>
<circle cx="1163.5" cy="534.8" r="1.9" fill="#23446e"/>
<circle cx="1163.5" cy="540.1" r="1.9" fill="#23446e"/>
<circle cx="1167.9" cy="541.8" r="1.9" fill="#23446e"/>
<circle cx="1179.6" cy="543.3" r="1.9" fill="#23446e"/>
<circle cx="1189.1" cy="544.4" r="1.9" fill="#23446e"/>
<circle cx="1207.0" cy="515.0" r="1.9" fill="#23446e"/>
<circle cx="1243.3" cy="541.5" r="1.9" fill="#23446e"/>
<circle cx="1260.6" cy="509.2" r="1.9" fill="#23446e"/>
<rect x="990.2" y="386.4" width="296.9" height="173.4" fill="none" stroke="#3a3a3a" stroke-width="1.1"/>
<line x1="985.0" y1="553.1" x2="990.2" y2="553.1" stroke="#5a5a5a" stroke-width="1.0"/>
<text x="980.5" y="553.1" font-size="7.6" text-anchor="middle" fill="#2a2a2a" transform="rotate(-90 980.5 553.1)">0</text>
<line x1="985.0" y1="526.4" x2="990.2" y2="526.4" stroke="#5a5a5a" stroke-width="1.0"/>
<text x="980.5" y="526.4" font-size="7.6" text-anchor="middle" fill="#2a2a2a" transform="rotate(-90 980.5 526.4)">20</text>
<line x1="985.0" y1="499.6" x2="990.2" y2="499.6" stroke="#5a5a5a" stroke-width="1.0"/>
<text x="980.5" y="499.6" font-size="7.6" text-anchor="middle" fill="#2a2a2a" transform="rotate(-90 980.5 499.6)">40</text>
<line x1="985.0" y1="472.9" x2="990.2" y2="472.9" stroke="#5a5a5a" stroke-width="1.0"/>
<text x="980.5" y="472.9" font-size="7.6" text-anchor="middle" fill="#2a2a2a" transform="rotate(-90 980.5 472.9)">60</text>
<line x1="985.0" y1="446.1" x2="990.2" y2="446.1" stroke="#5a5a5a" stroke-width="1.0"/>
<text x="980.5" y="446.1" font-size="7.6" text-anchor="middle" fill="#2a2a2a" transform="rotate(-90 980.5 446.1)">80</text>
<line x1="985.0" y1="419.4" x2="990.2" y2="419.4" stroke="#5a5a5a" stroke-width="1.0"/>
<text x="980.5" y="419.4" font-size="7.6" text-anchor="middle" fill="#2a2a2a" transform="rotate(-90 980.5 419.4)">100</text>
<line x1="985.0" y1="392.6" x2="990.2" y2="392.6" stroke="#5a5a5a" stroke-width="1.0"/>
<text x="980.5" y="392.6" font-size="7.6" text-anchor="middle" fill="#2a2a2a" transform="rotate(-90 980.5 392.6)">120</text>
<line x1="1000.9" y1="559.8" x2="1000.9" y2="563.5" stroke="#5a5a5a" stroke-width="1.0"/>
<text x="1000.9" y="572.8" font-size="8.2" text-anchor="middle" fill="#2a2a2a">0.5</text>
<line x1="1052.7" y1="559.8" x2="1052.7" y2="563.5" stroke="#5a5a5a" stroke-width="1.0"/>
<text x="1052.7" y="572.8" font-size="8.2" text-anchor="middle" fill="#2a2a2a">1.0</text>
<line x1="1104.5" y1="559.8" x2="1104.5" y2="563.5" stroke="#5a5a5a" stroke-width="1.0"/>
<text x="1104.5" y="572.8" font-size="8.2" text-anchor="middle" fill="#2a2a2a">2.0</text>
<line x1="1172.9" y1="559.8" x2="1172.9" y2="563.5" stroke="#5a5a5a" stroke-width="1.0"/>
<text x="1172.9" y="572.8" font-size="8.2" text-anchor="middle" fill="#2a2a2a">5.0</text>
<line x1="1224.7" y1="559.8" x2="1224.7" y2="563.5" stroke="#5a5a5a" stroke-width="1.0"/>
<text x="1224.7" y="572.8" font-size="8.2" text-anchor="middle" fill="#2a2a2a">10.0</text>
<line x1="1276.5" y1="559.8" x2="1276.5" y2="563.5" stroke="#5a5a5a" stroke-width="1.0"/>
<text x="1276.5" y="572.8" font-size="8.2" text-anchor="middle" fill="#2a2a2a">20.0</text>
<text x="964.8" y="473.0" font-size="9.6" text-anchor="middle" fill="#2a2a2a" transform="rotate(-90 964.8 473.0)">Conc.(nM)</text>
<circle cx="1204.5" cy="413.6" r="1.6" fill="#b8463c"/>
<text x="1210.3" y="417.1" font-size="12.6" text-anchor="start" fill="#2a2a2a">SZ</text>
<circle cx="1204.5" cy="422.6" r="1.7" fill="#2a3a4e"/>
<text x="1210.3" y="429.5" font-size="12.6" text-anchor="start" fill="#2a2a2a">HC</text>
<line x1="1044.3" y1="604.1" x2="1095.6" y2="604.1" stroke="#555" stroke-width="1.1" stroke-dasharray="3,2.5"/>
<line x1="1131.0" y1="604.1" x2="1163.3" y2="604.1" stroke="#555" stroke-width="1.1" stroke-dasharray="3,2.5"/>
<line x1="1044.3" y1="598.6" x2="1044.3" y2="609.6" stroke="#444" stroke-width="1.2"/>
<line x1="1163.3" y1="598.6" x2="1163.3" y2="609.6" stroke="#444" stroke-width="1.2"/>
<rect x="1095.6" y="592.9" width="35.4" height="22.4" fill="#2c5a9c" stroke="#333" stroke-width="1.1"/>
<line x1="1117.5" y1="592.9" x2="1117.5" y2="615.3" stroke="#111" stroke-width="2.2"/>
<line x1="1033.9" y1="631.0" x2="1089.2" y2="631.0" stroke="#555" stroke-width="1.1" stroke-dasharray="3,2.5"/>
<line x1="1123.2" y1="631.0" x2="1149.0" y2="631.0" stroke="#555" stroke-width="1.1" stroke-dasharray="3,2.5"/>
<line x1="1033.9" y1="625.5" x2="1033.9" y2="636.5" stroke="#444" stroke-width="1.2"/>
<line x1="1149.0" y1="625.5" x2="1149.0" y2="636.5" stroke="#444" stroke-width="1.2"/>
<rect x="1089.2" y="619.8" width="34.0" height="22.4" fill="#c83a3a" stroke="#333" stroke-width="1.1"/>
<line x1="1104.1" y1="619.8" x2="1104.1" y2="642.2" stroke="#111" stroke-width="2.2"/>
<circle cx="1168.1" cy="604.1" r="1.4" fill="#333"/>
<circle cx="1179.3" cy="604.1" r="1.4" fill="#333"/>
<circle cx="1188.8" cy="604.1" r="1.4" fill="#333"/>
<circle cx="1207.9" cy="604.1" r="1.4" fill="#333"/>
<circle cx="1243.0" cy="604.1" r="1.4" fill="#333"/>
<circle cx="1260.7" cy="604.1" r="1.4" fill="#333"/>
<rect x="990.4" y="588.4" width="297.0" height="58.0" fill="none" stroke="#4a4a4a" stroke-width="1.2"/>
<line x1="1000.9" y1="646.4" x2="1000.9" y2="649.5" stroke="#5a5a5a" stroke-width="1.0"/>
<text x="1000.9" y="659.8" font-size="8.2" text-anchor="middle" fill="#2a2a2a">0.5</text>
<line x1="1052.7" y1="646.4" x2="1052.7" y2="649.5" stroke="#5a5a5a" stroke-width="1.0"/>
<text x="1052.7" y="659.8" font-size="8.2" text-anchor="middle" fill="#2a2a2a">1.0</text>
<line x1="1104.5" y1="646.4" x2="1104.5" y2="649.5" stroke="#5a5a5a" stroke-width="1.0"/>
<text x="1104.5" y="659.8" font-size="8.2" text-anchor="middle" fill="#2a2a2a">2.0</text>
<line x1="1172.9" y1="646.4" x2="1172.9" y2="649.5" stroke="#5a5a5a" stroke-width="1.0"/>
<text x="1172.9" y="659.8" font-size="8.2" text-anchor="middle" fill="#2a2a2a">5.0</text>
<line x1="1224.7" y1="646.4" x2="1224.7" y2="649.5" stroke="#5a5a5a" stroke-width="1.0"/>
<text x="1224.7" y="659.8" font-size="8.2" text-anchor="middle" fill="#2a2a2a">10.0</text>
<line x1="1276.5" y1="646.4" x2="1276.5" y2="649.5" stroke="#5a5a5a" stroke-width="1.0"/>
<text x="1276.5" y="659.8" font-size="8.2" text-anchor="middle" fill="#2a2a2a">20.0</text>
<line x1="986.5" y1="604.1" x2="990.4" y2="604.1" stroke="#5a5a5a" stroke-width="1.0"/>
<line x1="986.5" y1="631.0" x2="990.4" y2="631.0" stroke="#5a5a5a" stroke-width="1.0"/>
<text x="980.9" y="604.1" font-size="7.6" text-anchor="middle" fill="#2a2a2a" transform="rotate(-90 980.9 604.1)">HC</text>
<text x="980.9" y="631.0" font-size="7.6" text-anchor="middle" fill="#2a2a2a" transform="rotate(-90 980.9 631.0)">SZ</text>
<path d="M1268.3,604.1 H1276.7 V631 H1268.3" fill="none" stroke="#555" stroke-width="1.1"/>
<circle cx="1279.5" cy="618.1" r="1.0" fill="#333"/>
<text x="1125.5" y="677.5" font-size="12.7" text-anchor="middle" fill="#2a2a2a">Diffusion Time (ms)</text>
</svg>
</body></html>
